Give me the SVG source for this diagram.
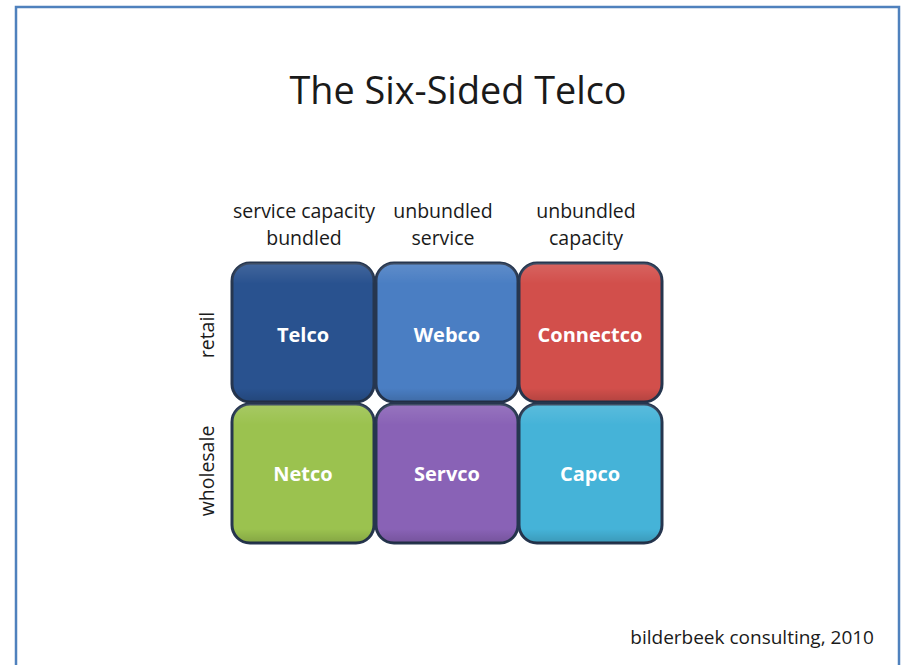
<svg xmlns="http://www.w3.org/2000/svg" width="901" height="665" viewBox="0 0 901 665">
<style>
.t{font-family:"Open Sans","Liberation Sans",sans-serif;fill:#1a1a1a}
.h{font-size:19.5px;text-anchor:middle}
.tile{stroke:#26364f;stroke-width:3}
.lbl{font-family:"Open Sans","Liberation Sans",sans-serif;font-weight:bold;font-size:20px;fill:#ffffff;text-anchor:middle}
</style>
<defs>
<linearGradient id="gl" x1="0" y1="0" x2="0" y2="1">
<stop offset="0" stop-color="#ffffff" stop-opacity="0.12"/>
<stop offset="0.15" stop-color="#ffffff" stop-opacity="0"/>
<stop offset="0.9" stop-color="#000000" stop-opacity="0"/>
<stop offset="1" stop-color="#000000" stop-opacity="0.15"/>
</linearGradient>
</defs>
<rect x="0" y="0" width="901" height="665" fill="#ffffff"/>
<rect x="16" y="7" width="883" height="670" fill="none" stroke="#4f81bd" stroke-width="2.5"/>
<text class="t" x="458" y="104" font-size="38" text-anchor="middle" textLength="337" lengthAdjust="spacingAndGlyphs">The Six-Sided Telco</text>
<g id="headers">
<text class="t h" x="304" y="218">service capacity</text>
<text class="t h" x="304" y="245">bundled</text>
<text class="t h" x="443" y="218">unbundled</text>
<text class="t h" x="443" y="245">service</text>
<text class="t h" x="586" y="218">unbundled</text>
<text class="t h" x="586" y="245">capacity</text>
<text class="t h" transform="translate(214,335) rotate(-90)">retail</text>
<text class="t h" transform="translate(214,471) rotate(-90)">wholesale</text>
</g>
<g id="telco"><rect class="tile" x="232" y="263" width="142" height="139" rx="18" fill="#29528f"/><rect x="232" y="263" width="142" height="139" rx="18" fill="url(#gl)"/><text class="lbl" x="303" y="342">Telco</text></g>
<g id="webco"><rect class="tile" x="376" y="263" width="142" height="139" rx="18" fill="#4a7ec3"/><rect x="376" y="263" width="142" height="139" rx="18" fill="url(#gl)"/><text class="lbl" x="447" y="342">Webco</text></g>
<g id="connectco"><rect class="tile" x="519" y="263" width="143" height="139" rx="18" fill="#d24f4b"/><rect x="519" y="263" width="143" height="139" rx="18" fill="url(#gl)"/><text class="lbl" x="590" y="342">Connectco</text></g>
<g id="netco"><rect class="tile" x="232" y="404" width="142" height="139" rx="18" fill="#9bc24f"/><rect x="232" y="404" width="142" height="139" rx="18" fill="url(#gl)"/><text class="lbl" x="303" y="481">Netco</text></g>
<g id="servco"><rect class="tile" x="376" y="404" width="142" height="139" rx="18" fill="#8962b6"/><rect x="376" y="404" width="142" height="139" rx="18" fill="url(#gl)"/><text class="lbl" x="447" y="481">Servco</text></g>
<g id="capco"><rect class="tile" x="519" y="404" width="143" height="139" rx="18" fill="#45b3d8"/><rect x="519" y="404" width="143" height="139" rx="18" fill="url(#gl)"/><text class="lbl" x="590" y="481">Capco</text></g>
<g id="connectors"></g>
<text class="t" x="874" y="644" font-size="19" text-anchor="end">bilderbeek consulting, 2010</text>
</svg>
